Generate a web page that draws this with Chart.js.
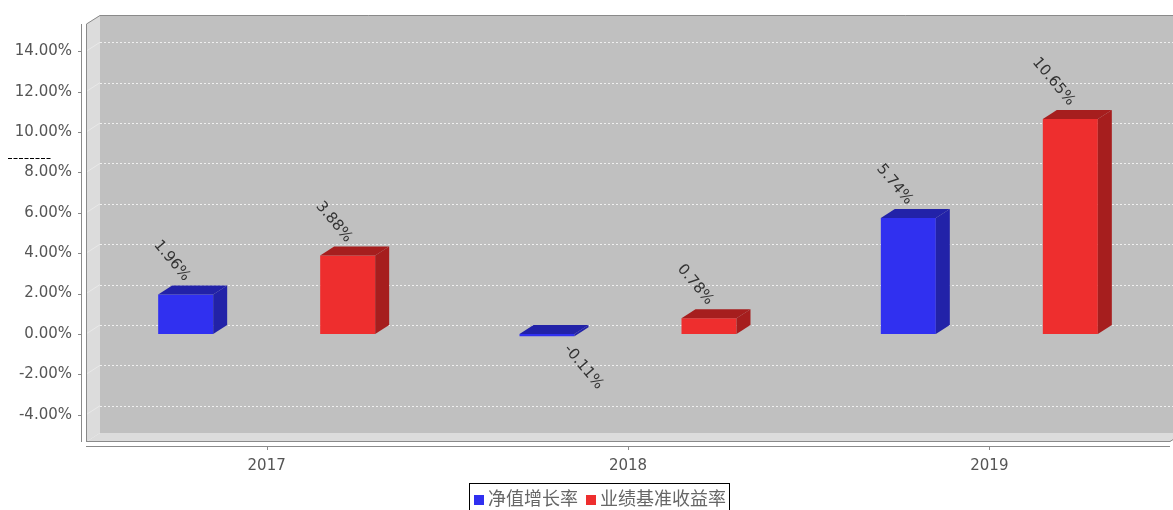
<!DOCTYPE html>
<html>
<head>
<meta charset="utf-8">
<script src="https://cdn.jsdelivr.net/npm/chart.js@4.4.0/dist/chart.umd.min.js"></script>
<style>
  html, body { margin: 0; padding: 0; background: #fff; overflow: hidden; }
  #caixa { width: 1173px; height: 510px; position: relative; }
</style>
</head>
<body>
<div id="caixa"><canvas id="grafico"></canvas></div>
<script>
// dados
const anos = ["2017", "2018", "2019"];
const nomes = ["净值增长率", "业绩基准收益率"];
const crescimento = [1.96, -0.11, 5.74];
const referencia = [3.88, 0.78, 10.65];
const marcasY = [-4, -2, 0, 2, 4, 6, 8, 10, 12, 14];

// cores (frente / lado escuro)
const cores = ["rgb(48,48,240)", "rgb(238,46,46)"];
const coresEscuras = ["rgb(34,34,168)", "rgb(166,30,30)"];

// profundidade do efeito 3D
const DX = 14, DY = 9;
const ANGULO = 50 * Math.PI / 180;

const efeito3d = {
  id: "efeito3d",
  beforeDatasetsDraw(chart) {
    const { ctx, chartArea: a, scales } = chart;
    ctx.save();
    // parede do fundo
    ctx.fillStyle = "#c0c0c0";
    ctx.fillRect(a.left + DX, a.top - DY, a.right - a.left, a.bottom - a.top);
    // parede esquerda e chao
    ctx.fillStyle = "#dcdcdc";
    ctx.beginPath();
    ctx.moveTo(a.left, a.top);
    ctx.lineTo(a.left + DX, a.top - DY);
    ctx.lineTo(a.left + DX, a.bottom - DY);
    ctx.lineTo(a.left, a.bottom);
    ctx.closePath();
    ctx.fill();
    ctx.beginPath();
    ctx.moveTo(a.left, a.bottom);
    ctx.lineTo(a.left + DX, a.bottom - DY);
    ctx.lineTo(a.right + DX, a.bottom - DY);
    ctx.lineTo(a.right, a.bottom);
    ctx.closePath();
    ctx.fill();
    // linhas de grade tracejadas
    ctx.strokeStyle = "rgba(255,255,255,0.75)";
    ctx.lineWidth = 1;
    ctx.setLineDash([2, 2]);
    marcasY.forEach(v => {
      const y = Math.round(scales.y.getPixelForValue(v) - DY) + 0.5;
      ctx.beginPath();
      ctx.moveTo(a.left + DX, y);
      ctx.lineTo(a.right + DX, y);
      ctx.stroke();
    });
    ctx.setLineDash([]);
    ctx.strokeStyle = "rgba(255,255,255,0.35)";
    marcasY.forEach(v => {
      const y = scales.y.getPixelForValue(v);
      ctx.beginPath();
      ctx.moveTo(a.left, y);
      ctx.lineTo(a.left + DX, y - DY);
      ctx.stroke();
    });
    // contorno
    ctx.strokeStyle = "#8a8a8a";
    ctx.beginPath();
    ctx.moveTo(a.left + 0.5, a.bottom);
    ctx.lineTo(a.left + 0.5, a.top);
    ctx.lineTo(a.left + DX, a.top - DY + 0.5);
    ctx.lineTo(a.right + DX + 20, a.top - DY + 0.5);
    ctx.stroke();
    ctx.beginPath();
    ctx.moveTo(a.left, a.bottom - 0.5);
    ctx.lineTo(a.right, a.bottom - 0.5);
    ctx.lineTo(a.right + DX, a.bottom - DY - 0.5);
    ctx.stroke();
    ctx.restore();
  },
  afterDatasetsDraw(chart) {
    const { ctx } = chart;
    ctx.save();
    chart.data.datasets.forEach((ds, di) => {
      const meta = chart.getDatasetMeta(di);
      meta.data.forEach((bar, i) => {
        const p = bar.getProps(["x", "y", "base", "width"], true);
        const x0 = p.x - p.width / 2, x1 = p.x + p.width / 2;
        const yTop = Math.min(p.y, p.base), yBot = Math.max(p.y, p.base);
        ctx.fillStyle = coresEscuras[di];
        // topo
        ctx.beginPath();
        ctx.moveTo(x0, yTop);
        ctx.lineTo(x0 + DX, yTop - DY);
        ctx.lineTo(x1 + DX, yTop - DY);
        ctx.lineTo(x1, yTop);
        ctx.closePath();
        ctx.fill();
        // lado direito
        ctx.beginPath();
        ctx.moveTo(x1, yTop);
        ctx.lineTo(x1 + DX, yTop - DY);
        ctx.lineTo(x1 + DX, yBot - DY);
        ctx.lineTo(x1, yBot);
        ctx.closePath();
        ctx.fill();
        // rotulo girado
        const v = ds.data[i];
        ctx.save();
        ctx.fillStyle = "#333";
        ctx.font = '15px "DejaVu Sans"';
        ctx.textBaseline = "middle";
        if (v >= 0) {
          ctx.translate(p.x + 1.5, yTop - 15.3);
          ctx.rotate(ANGULO);
          ctx.textAlign = "right";
        } else {
          ctx.translate(p.x + 19.4, yBot + 10.6);
          ctx.rotate(ANGULO);
          ctx.textAlign = "left";
        }
        ctx.fillText(v.toFixed(2) + "%", 0, 0);
        ctx.restore();
      });
    });
    ctx.restore();
  },
  afterDraw(chart) {
    const { ctx, chartArea: a, scales } = chart;
    ctx.save();
    // eixos
    ctx.strokeStyle = "#8a8a8a";
    ctx.lineWidth = 1;
    ctx.beginPath();
    ctx.moveTo(a.left - 4.5, a.top);
    ctx.lineTo(a.left - 4.5, a.bottom);
    ctx.moveTo(a.left, a.bottom + 4.5);
    ctx.lineTo(a.right, a.bottom + 4.5);
    marcasY.forEach(v => {
      const y = Math.round(scales.y.getPixelForValue(v)) + 0.5;
      ctx.moveTo(a.left - 8, y);
      ctx.lineTo(a.left - 4, y);
    });
    anos.forEach((_, i) => {
      const x = Math.round(scales.x.getPixelForValue(i)) + 0.5;
      ctx.moveTo(x, a.bottom + 4);
      ctx.lineTo(x, a.bottom + 8);
    });
    ctx.stroke();

    // tracejado solto no canto esquerdo
    ctx.strokeStyle = "#000";
    ctx.setLineDash([4, 1.5]);
    ctx.beginPath();
    ctx.moveTo(8, 158.5);
    ctx.lineTo(51, 158.5);
    ctx.stroke();
    ctx.setLineDash([]);

    // legenda com moldura
    ctx.font = '18px "Noto Sans CJK SC"';
    const w1 = ctx.measureText(nomes[0]).width;
    const w2 = ctx.measureText(nomes[1]).width;
    const esq = 469;
    const larg = 5 + 10 + 4 + w1 + 8 + 10 + 4 + w2 + 3;
    ctx.strokeStyle = "#000";
    ctx.strokeRect(esq + 0.5, 483.5, larg, 40);
    let x = esq + 5;
    ctx.textBaseline = "middle";
    ctx.textAlign = "left";
    [w1, w2].forEach((w, i) => {
      ctx.fillStyle = cores[i];
      ctx.fillRect(x, 495, 10, 10);
      x += 14;
      ctx.fillStyle = "#666";
      ctx.fillText(nomes[i], x, 498.5);
      x += w + 8;
    });
    ctx.restore();
  }
};

new Chart(document.getElementById("grafico"), {
  type: "bar",
  data: {
    labels: anos,
    datasets: [
      { label: nomes[0], data: crescimento, backgroundColor: cores[0] },
      { label: nomes[1], data: referencia, backgroundColor: cores[1] }
    ]
  },
  options: {
    responsive: true,
    maintainAspectRatio: false,
    animation: false,
    categoryPercentage: 0.8967,
    barPercentage: 0.3395,
    layout: { padding: { top: 24, right: 3, left: 0, bottom: 0 } },
    plugins: {
      legend: { display: false },
      tooltip: { enabled: false }
    },
    scales: {
      x: {
        afterFit: s => { s.height = 68; },
        grid: { display: false, drawTicks: false },
        border: { display: false },
        ticks: { padding: 15, color: "#555", font: { family: "DejaVu Sans", size: 15 } }
      },
      y: {
        min: -5.35,
        max: 15.35,
        afterBuildTicks: s => { s.ticks = marcasY.map(v => ({ value: v })); },
        afterFit: s => { s.width = 86; },
        grid: { display: false, drawTicks: false },
        border: { display: false },
        ticks: {
          padding: 14,
          color: "#555",
          font: { family: "DejaVu Sans", size: 15 },
          callback: v => v.toFixed(2) + "%"
        }
      }
    }
  },
  plugins: [efeito3d]
});
</script>
</body>
</html>
